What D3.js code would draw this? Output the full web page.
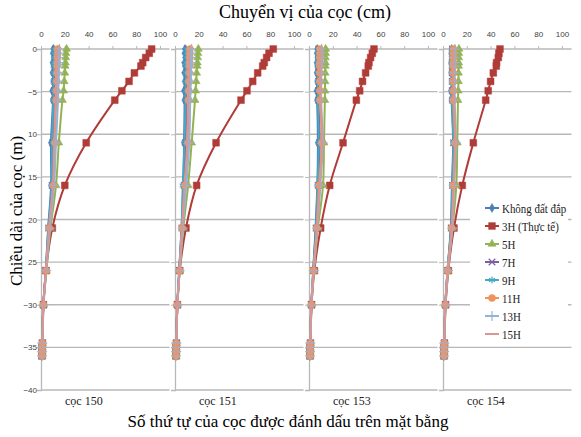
<!DOCTYPE html>
<html>
<head>
<meta charset="utf-8">
<script src="https://cdn.jsdelivr.net/npm/d3@7"></script>
<style>
  body { margin: 0; background: #fff; }
  svg { display: block; }
</style>
</head>
<body>
<div id="chart"></div>
<script>
// depth points (m, below pile head) shared by every series
var depths = [0, 0.5, 1, 1.6, 2, 2.8, 3.8, 4.9, 6, 11, 16, 21, 26, 30, 34.5, 35, 35.5, 36];
var piles = ["cọc 150", "cọc 151", "cọc 153", "cọc 154"];
var seriesNames = ["Không đất đắp", "3H (Thực tế)", "5H", "7H", "9H", "11H", "13H", "15H"];
var xTicks = [0, 20, 40, 60, 80, 100];
var yTicks = [0, -5, -10, -15, -20, -25, -30, -35, -40];

// displacement (cm), one row per pile
var khongDatDap = [
  [10.5, 10, 10.8, 9.8, 10.5, 9.8, 10.5, 9.5, 10, 8.4, 8.5, 6, 4, 2, 1, 0.9, 0.8, 0.8],
  [8.4, 8, 8.6, 7.8, 8.4, 7.8, 8.3, 7.6, 8, 7.6, 7, 5.5, 3.5, 2, 1, 0.9, 0.8, 0.8],
  [7, 6.6, 7.2, 6.5, 7, 6.5, 7, 6.4, 6.8, 7.5, 7, 5.5, 3.5, 2, 1, 0.9, 0.8, 0.8],
  [7.3, 7, 7.6, 6.9, 7.4, 6.9, 7.4, 6.8, 7.2, 8.5, 7.5, 6.5, 3.8, 2, 1, 0.9, 0.8, 0.8]
];
var h3 = [
  [93, 91, 88, 85.5, 84, 78.5, 74, 68, 62, 38, 20, 9.5, 4.2, 2, 1.2, 1, 1, 0.8],
  [82.6, 79, 77, 75, 73.7, 69.5, 65.3, 60.5, 55.5, 34.5, 18.2, 9.2, 4, 2, 1.2, 1, 1, 0.8],
  [54.6, 53.2, 51.8, 50.4, 49.8, 47.6, 45, 42.6, 39.8, 28.6, 17.4, 9.8, 4.5, 2.2, 1.2, 1, 1, 0.8],
  [47.9, 47, 46.5, 45, 44.8, 42.3, 40, 38, 35.9, 25.5, 16.2, 9.2, 4.5, 2.2, 1.2, 1, 1, 0.8]
];
var h5 = [
  [21.5, 21, 20.8, 20.5, 20.3, 20, 19.5, 19, 18, 15, 12.6, 8, 4.5, 2.2, 1.2, 1.1, 1, 1],
  [19.6, 19.3, 19, 18.8, 18.6, 18.2, 17.8, 17.3, 16.8, 14, 11, 7, 4, 2, 1.2, 1, 1, 1],
  [14, 14, 13.8, 13.8, 13.7, 13.6, 13.5, 13.4, 13.3, 12.6, 11.8, 7.5, 4.2, 2.1, 1.2, 1, 1, 1],
  [13.4, 13.3, 13.2, 13.2, 13.1, 13, 13, 12.8, 12.6, 12, 11.2, 8, 4.3, 2.1, 1.2, 1, 1, 1]
];
var h7 = [
  [12, 11.8, 11.9, 11.6, 11.7, 11.5, 11.5, 11.2, 11.2, 9.8, 9.4, 6.5, 4.2, 2, 1.1, 1, 0.9, 0.9],
  [10.5, 10.4, 10.4, 10.3, 10.2, 10.1, 10, 9.8, 9.7, 8.8, 7.8, 5.8, 3.6, 2, 1.1, 1, 0.9, 0.9],
  [8.2, 8.1, 8.1, 8, 8, 8, 8, 8, 8, 9, 7.8, 6, 3.7, 2, 1.1, 1, 0.9, 0.9],
  [8, 7.9, 7.9, 7.8, 7.8, 7.8, 7.8, 7.8, 8, 9, 8, 6.9, 3.8, 2, 1.1, 1, 0.9, 0.9]
];
var h9 = [
  [11, 10.8, 11, 10.7, 10.8, 10.6, 10.6, 10.4, 10.4, 9.2, 9, 6.2, 4.1, 2, 1, 1, 0.9, 0.8],
  [9.5, 9.4, 9.4, 9.3, 9.2, 9.1, 9, 8.9, 8.8, 8, 6.5, 5.5, 3.5, 2, 1, 1, 0.9, 0.8],
  [7.6, 7.5, 7.5, 7.4, 7.4, 7.4, 7.4, 7.4, 7.4, 8.2, 7.2, 5.8, 3.6, 2, 1, 1, 0.9, 0.8],
  [7.6, 7.5, 7.5, 7.4, 7.4, 7.4, 7.4, 7.4, 7.5, 8.7, 7.8, 6.7, 3.8, 2, 1, 1, 0.9, 0.8]
];
var h11 = [
  [14, 14, 13.8, 13.7, 13.6, 13.4, 13.2, 13, 12.8, 11.8, 10.4, 7, 4.2, 2, 1.1, 1, 1, 0.9],
  [12.6, 12.5, 12.4, 12.3, 12.2, 12, 11.8, 11.6, 11.4, 11, 8.4, 6, 3.8, 2, 1.1, 1, 1, 0.9],
  [9.2, 9.2, 9.1, 9.1, 9, 9, 9, 9.2, 9.2, 10.7, 8.4, 6.5, 3.8, 2, 1.1, 1, 1, 0.9],
  [8.7, 8.7, 8.6, 8.6, 8.5, 8.5, 8.5, 8.6, 8.7, 10, 8.7, 7.3, 3.9, 2, 1.1, 1, 1, 0.9]
];
var h13 = [
  [15.5, 15.4, 15.3, 15.2, 15.1, 14.9, 14.7, 14.5, 14.3, 12.6, 11, 7.4, 4.4, 2.1, 1.1, 1, 1, 0.9],
  [14, 13.9, 13.8, 13.7, 13.6, 13.4, 13.2, 13, 12.8, 12, 9.5, 6.5, 3.9, 2.1, 1.1, 1, 1, 0.9],
  [10.6, 10.5, 10.5, 10.4, 10.4, 10.3, 10.3, 10.2, 10.2, 11.5, 9.6, 7, 4, 2.1, 1.1, 1, 1, 0.9],
  [10, 9.9, 9.9, 9.8, 9.8, 9.7, 9.7, 9.7, 9.8, 10.8, 9.4, 7.8, 4.1, 2.1, 1.1, 1, 1, 0.9]
];
var h15 = [
  [13.2, 13.1, 13, 12.9, 12.9, 12.7, 12.6, 12.4, 12.2, 11, 10, 6.8, 4.2, 2, 1.1, 1, 1, 0.9],
  [11.8, 11.7, 11.6, 11.5, 11.4, 11.3, 11.1, 11, 10.8, 10.2, 8, 6, 3.7, 2, 1.1, 1, 1, 0.9],
  [9.8, 9.7, 9.7, 9.6, 9.6, 9.6, 9.6, 9.7, 9.7, 11, 9, 6.8, 3.9, 2, 1.1, 1, 1, 0.9],
  [9.2, 9.1, 9.1, 9, 9, 9, 9, 9.1, 9.2, 10.4, 9, 7.5, 4, 2, 1.1, 1, 1, 0.9]
];

var seriesValues = [khongDatDap, h3, h5, h7, h9, h11, h13, h15];

// excel 2007 style colours and markers
var colors = ["#4a7ebb", "#b03c38", "#93b352", "#7d5fa0", "#46a8c2", "#ef9459", "#95b3d7", "#d99694"];
var markers = [
  {type: d3.symbolDiamond, size: 24, fill: true},
  {type: d3.symbolSquare, size: 46, fill: true},
  {type: d3.symbolTriangle, size: 28, fill: true},
  {type: d3.symbolTimes || d3.symbolCross, size: 30, fill: false},
  {type: d3.symbolAsterisk || d3.symbolCross, size: 34, fill: false},
  {type: d3.symbolCircle, size: 40, fill: true},
  {type: d3.symbolPlus || d3.symbolCross, size: 34, fill: false},
  null
];

var width = 581, height = 437;
var serif = "'Liberation Serif', 'Times New Roman', 'DejaVu Serif', serif";
var sans = "'Liberation Sans', Arial, sans-serif";

var svg = d3.select("#chart").append("svg")
    .attr("width", width)
    .attr("height", height);

// one band per pile, same y scale for all
var band = d3.scaleBand()
    .domain(piles)
    .range([41, 571.5])
    .paddingInner(0.041)
    .paddingOuter(0);

var x = d3.scaleLinear().domain([0, 108]).range([0, band.bandwidth()]);
var y = d3.scaleLinear().domain([-40, 0]).range([390, 49]);

var line = d3.line()
    .x(function(d) { return x(d[0]); })
    .y(function(d) { return y(d[1]); })
    .curve(d3.curveCatmullRom.alpha(0.5));

piles.forEach(function(pile, p) {
    var g = svg.append("g")
        .attr("transform", "translate(" + band(pile) + ",0)");

    // horizontal gridlines
    g.selectAll(".grid")
        .data(yTicks)
        .enter().append("line")
        .attr("x1", 0)
        .attr("x2", band.bandwidth())
        .attr("y1", function(d) { return y(d); })
        .attr("y2", function(d) { return y(d); })
        .attr("stroke", "#b8b8b8")
        .attr("stroke-width", 1.3);

    // top axis
    var xAxis = g.append("g")
        .attr("transform", "translate(0," + y(0) + ")")
        .call(d3.axisTop(x).tickValues(xTicks).tickSize(3).tickSizeOuter(0).tickPadding(9));
    xAxis.select(".domain").remove();
    xAxis.selectAll(".tick line").attr("stroke", "#b8b8b8");
    xAxis.selectAll("text")
        .attr("font-family", sans)
        .attr("font-size", 8)
        .attr("fill", "#404040");

    // left axis
    var yAxis = g.append("g")
        .call(d3.axisLeft(y).tickValues(yTicks).tickSize(4).tickPadding(0));
    yAxis.select(".domain").attr("stroke", "#b8b8b8").attr("stroke-width", 1.3);
    yAxis.selectAll(".tick line").attr("stroke", "#b8b8b8");
    yAxis.selectAll("text")
        .attr("font-family", sans)
        .attr("font-size", 8)
        .attr("fill", "#404040")
        .attr("opacity", p == 0 ? 1 : 0);

    // series, first drawn at the back
    seriesValues.forEach(function(values, s) {
        var pts = depths.map(function(d, i) { return [values[p][i], -d]; });
        g.append("path")
            .attr("d", line(pts))
            .attr("fill", "none")
            .attr("stroke", colors[s])
            .attr("stroke-width", 2);
        if (markers[s]) {
            var sym = d3.symbol().type(markers[s].type).size(markers[s].size);
            g.selectAll(".m" + s)
                .data(pts)
                .enter().append("path")
                .attr("class", "m" + s)
                .attr("transform", function(d) { return "translate(" + x(d[0]) + "," + y(d[1]) + ")"; })
                .attr("d", sym)
                .attr("fill", markers[s].fill ? colors[s] : "none")
                .attr("stroke", colors[s])
                .attr("stroke-width", markers[s].fill ? 0.5 : 1.2);
        }
    });

    // pile name under the panel
    g.append("text")
        .attr("x", x(36))
        .attr("y", 405)
        .attr("text-anchor", "middle")
        .attr("font-family", serif)
        .attr("font-size", 12)
        .attr("fill", "#222")
        .text(pile);
});

// legend with a white box over the last panel
var legend = svg.append("g").attr("transform", "translate(470,196)");
legend.append("rect")
    .attr("width", 98)
    .attr("height", 148)
    .attr("fill", "#fff");
seriesNames.forEach(function(name, s) {
    var ly = 12 + s * 18;
    legend.append("line")
        .attr("x1", 15).attr("x2", 29)
        .attr("y1", ly).attr("y2", ly)
        .attr("stroke", colors[s])
        .attr("stroke-width", 2);
    if (markers[s]) {
        legend.append("path")
            .attr("transform", "translate(22," + ly + ")")
            .attr("d", d3.symbol().type(markers[s].type).size(markers[s].size)())
            .attr("fill", markers[s].fill ? colors[s] : "none")
            .attr("stroke", colors[s])
            .attr("stroke-width", markers[s].fill ? 0.5 : 1.2);
    }
    legend.append("text")
        .attr("transform", "translate(32," + (ly + 4.5) + ") scale(0.84,1)")
        .attr("font-family", serif)
        .attr("font-size", 13)
        .attr("fill", "#222")
        .text(name);
});

// axis titles
svg.append("text")
    .attr("x", 305)
    .attr("y", 18)
    .attr("text-anchor", "middle")
    .attr("font-family", serif)
    .attr("font-size", 18)
    .text("Chuyển vị của cọc (cm)");

svg.append("rect")
    .attr("x", 4)
    .attr("y", 120)
    .attr("width", 24)
    .attr("height", 178)
    .attr("fill", "#fff");
svg.append("text")
    .attr("transform", "translate(22,211) rotate(-90)")
    .attr("text-anchor", "middle")
    .attr("font-family", serif)
    .attr("font-size", 17)
    .text("Chiều dài của cọc (m)");

svg.append("text")
    .attr("x", 288)
    .attr("y", 427)
    .attr("text-anchor", "middle")
    .attr("font-family", serif)
    .attr("font-size", 17)
    .text("Số thứ tự của cọc được đánh dấu trên mặt bằng");
</script>
</body>
</html>
